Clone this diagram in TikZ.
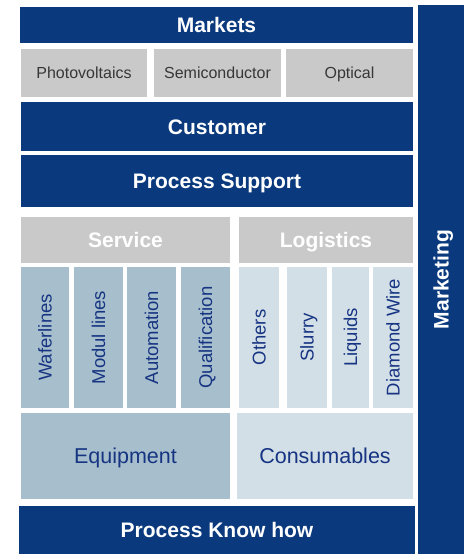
\documentclass[tikz,border=0pt]{standalone}
\usepackage{fontspec}
\setmainfont{Liberation Sans}
\usepackage{xcolor}
\usepackage{tikz}
\usetikzlibrary{positioning}
\definecolor{navyband}{RGB}{10,58,125}
\definecolor{marketgray}{RGB}{201,201,201}
\definecolor{steelblue}{RGB}{167,191,204}
\definecolor{paleblue}{RGB}{211,223,231}
\definecolor{labelgray}{RGB}{55,55,55}
\definecolor{labelblue}{RGB}{22,52,130}

\begin{document}
\begin{tikzpicture}[
    x=1pt,y=-1pt,
    band/.style={rectangle,fill=navyband,text=white,inner sep=0pt,text height=15pt,text depth=0pt,font=\bfseries\fontsize{21}{24}\selectfont},
    market/.style={rectangle,fill=marketgray,text=labelgray,inner sep=0pt,text height=11.5pt,text depth=0pt,minimum height=48pt,font=\fontsize{16}{19}\selectfont},
    header/.style={rectangle,fill=marketgray,text=white,inner sep=0pt,text height=15pt,text depth=0pt,minimum height=46pt,font=\bfseries\fontsize{21}{24}\selectfont},
    svccol/.style={rectangle,fill=steelblue,text=labelblue,inner sep=0pt,text height=13.3pt,text depth=0pt,rotate=90,minimum width=141pt,font=\fontsize{18.5}{21}\selectfont},
    logcol/.style={rectangle,fill=paleblue,text=labelblue,inner sep=0pt,text height=13.3pt,text depth=0pt,rotate=90,minimum width=141pt,font=\fontsize{18.5}{21}\selectfont},
    base/.style={rectangle,text=labelblue,inner sep=0pt,text height=15.4pt,text depth=0pt,minimum height=86pt,font=\fontsize{21.5}{24}\selectfont}
]
    \fill[white] (0,0) rectangle (464,554);
    \useasboundingbox (0,0) rectangle (464,554);

    % Top bands
    \node[band,minimum width=393pt,minimum height=36pt] (markets) at (216.5,25) {Markets};
    \node[market,minimum width=126pt] (pv) at (84,73) {Photovoltaics};
    \node[market,minimum width=127pt] (semi) at (217.5,73) {Semiconductor};
    \node[market,minimum width=127pt] (optical) at (349.5,73) {Optical};
    \node[band,minimum width=392pt,minimum height=49pt] (customer) at (217,126.5) {Customer};
    \node[band,minimum width=392pt,minimum height=52pt] (support) at (217,181) {Process Support};

    % Service and logistics
    \node[header,minimum width=209pt] (service) at (125.5,240) {Service};
    \node[header,minimum width=174pt] (logistics) at (326,240) {Logistics};

    \node[svccol,minimum height=48pt] (wafer) at (45,337.5) {Waferlines};
    \node[svccol,minimum height=49pt] (modul) at (98.5,337.5) {Modul lines};
    \node[svccol,minimum height=49pt] (auto) at (151.5,337.5) {Automation};
    \node[svccol,minimum height=49pt] (quali) at (205.5,337.5) {Qualification};

    \node[logcol,minimum height=40pt] (others) at (259,337.5) {Others};
    \node[logcol,minimum height=40pt] (slurry) at (307,337.5) {Slurry};
    \node[logcol,minimum height=37pt] (liquids) at (350.5,337.5) {Liquids};
    \node[logcol,minimum height=40pt] (diamond) at (393,337.5) {Diamond Wire};

    \node[base,fill=steelblue,minimum width=209pt] (equipment) at (125.5,456) {Equipment};
    \node[base,fill=paleblue,minimum width=176pt] (consumables) at (325,456) {Consumables};

    % Bottom band and side bar
    \node[band,minimum width=396pt,minimum height=48pt] (knowhow) at (217,530) {Process Know how};
    \node[band,rotate=90,minimum width=549pt,minimum height=46pt] (marketing) at (441,279.5) {Marketing};
\end{tikzpicture}
\end{document}
